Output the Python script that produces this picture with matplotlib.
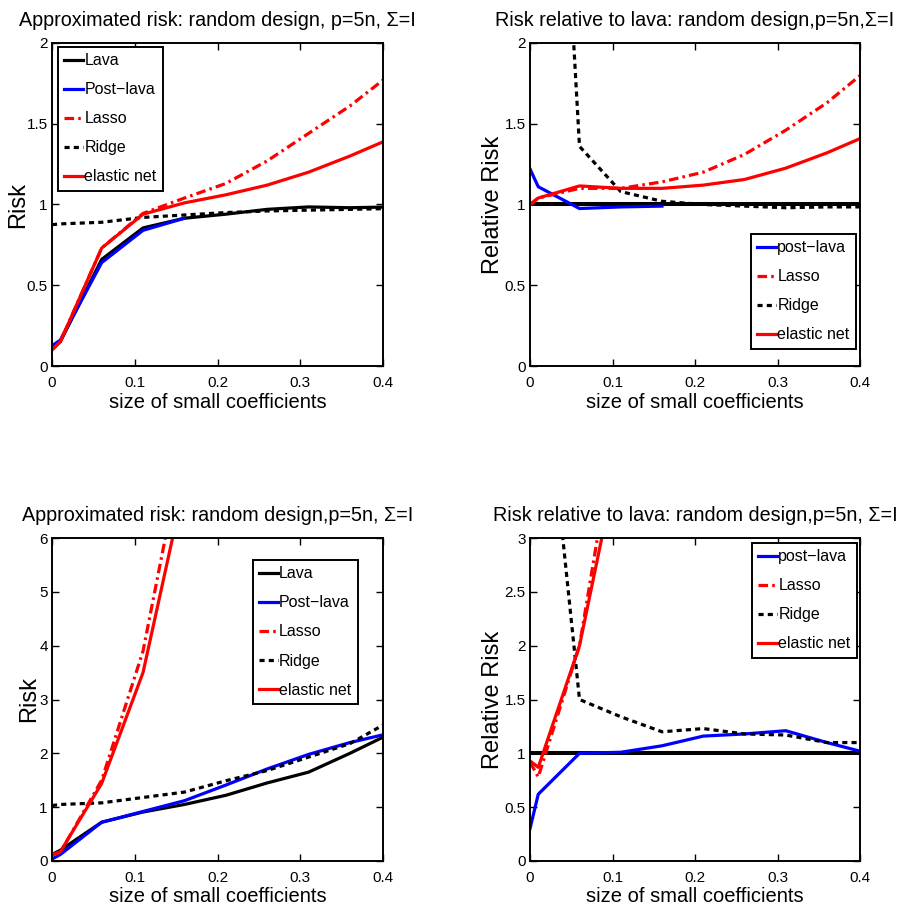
import numpy as np
import matplotlib
matplotlib.use("Agg")
import matplotlib.pyplot as plt
from matplotlib.ticker import FormatStrFormatter

plt.rcParams['font.family'] = ['Liberation Sans', 'DejaVu Sans']

nan = np.nan
size = [0, 0.01, 0.06, 0.11, 0.16, 0.21, 0.26, 0.31, 0.36, 0.41]

# top left: approximated risk
lava_a = [0.12, 0.15, 0.66, 0.855, 0.915, 0.94, 0.97, 0.985, 0.98, 0.985]
post_a = [0.125, 0.16, 0.64, 0.84, 0.915, nan, nan, nan, nan, nan]
lasso_a = [0.10, 0.15, 0.73, 0.945, 1.04, 1.13, 1.27, 1.44, 1.61, 1.81]
ridge_a = [0.875, 0.88, 0.89, 0.92, 0.935, 0.95, 0.96, 0.965, 0.97, 0.975]
enet_a = [0.10, 0.15, 0.73, 0.94, 1.01, 1.06, 1.12, 1.20, 1.30, 1.41]

# top right: relative to lava
post_b = [1.22, 1.11, 0.975, 0.985, 0.99, nan, nan, nan, nan, nan]
lasso_b = [1.0, 1.04, 1.10, 1.10, 1.14, 1.20, 1.31, 1.46, 1.63, 1.84]
ridge_b = [7.3, 5.9, 1.36, 1.08, 1.02, 1.0, 0.99, 0.98, 0.985, 0.985]
enet_b = [1.0, 1.04, 1.115, 1.10, 1.10, 1.12, 1.155, 1.225, 1.32, 1.43]

# bottom left: approximated risk
lava_c = [0.12, 0.2, 0.72, 0.91, 1.05, 1.22, 1.45, 1.65, 2.0, 2.375]
post_c = [0.036, 0.12, 0.72, 0.92, 1.12, 1.41, 1.71, 1.98, 2.2, 2.38]
lasso_c = [0.12, 0.16, 1.5, 3.9, 7.8, 12.0, 16.0, 21.0, 26.0, 31.0]
ridge_c = [1.03, 1.05, 1.08, 1.18, 1.28, 1.49, 1.68, 1.93, 2.18, 2.61]
enet_c = [0.11, 0.17, 1.44, 3.5, 7.0, 10.5, 14.0, 18.0, 22.0, 26.0]

# bottom right: relative to lava
post_d = [0.30, 0.62, 1.0, 1.01, 1.07, 1.16, 1.18, 1.21, 1.10, 1.0]
lasso_d = [0.92, 0.78, 2.0, 4.3, 7.4, 9.8, 11.0, 12.7, 13.0, 13.1]
ridge_d = [10.3, 5.2, 1.5, 1.34, 1.2, 1.23, 1.18, 1.17, 1.10, 1.10]
enet_d = [0.93, 0.87, 2.0, 3.85, 6.7, 8.6, 9.7, 10.9, 11.0, 10.9]

titles = ["Approximated risk: random design, p=5n, \u03a3=I",
          "Risk relative to lava: random design,p=5n,\u03a3=I",
          "Approximated risk: random design,p=5n, \u03a3=I",
          "Risk relative to lava: random design,p=5n, \u03a3=I"]

W, H = 898, 911
fig = plt.figure(figsize=(W / 100, H / 100), dpi=100)

def make_ax(x0, y0, x1, y1):
    return fig.add_axes([x0 / W, 1 - y1 / H, (x1 - x0) / W, (y1 - y0) / H])

axes = [make_ax(52, 43, 383, 366), make_ax(530, 43, 860, 366),
        make_ax(52, 538, 383, 861), make_ax(530, 538, 860, 861)]

lw = 2.3
dot = (0, (1.6, 1.3))
dashdot = (0, (3.0, 1.3, 0.8, 1.3))

def risk_panel(ax, lava, post, lasso, ridge, enet):
    ax.plot(size, lava, color='k', lw=lw, label='Lava')
    ax.plot(size, post, color='b', lw=lw, label='Post\u2212lava')
    ax.plot(size, lasso, color='r', lw=lw, ls=dashdot, label='Lasso')
    ax.plot(size, ridge, color='k', lw=lw, ls=dot, label='Ridge')
    ax.plot(size, enet, color='r', lw=lw, label='elastic net')
    ax.set_ylabel('Risk', fontsize=17)

def rel_panel(ax, post, lasso, ridge, enet):
    ax.plot(size, np.ones(len(size)), color='k', lw=lw + 0.6)
    ax.plot(size, post, color='b', lw=lw, label='post\u2212lava')
    ax.plot(size, lasso, color='r', lw=lw, ls=dashdot, label='Lasso')
    ax.plot(size, ridge, color='k', lw=lw, ls=dot, label='Ridge')
    ax.plot(size, enet, color='r', lw=lw, label='elastic net')
    ax.set_ylabel('Relative Risk', fontsize=17)

risk_panel(axes[0], lava_a, post_a, lasso_a, ridge_a, enet_a)
rel_panel(axes[1], post_b, lasso_b, ridge_b, enet_b)
risk_panel(axes[2], lava_c, post_c, lasso_c, ridge_c, enet_c)
rel_panel(axes[3], post_d, lasso_d, ridge_d, enet_d)

ylims = [(0, 2), (0, 2), (0, 6), (0, 3)]
yticks = [np.arange(0, 2.01, 0.5), np.arange(0, 2.01, 0.5),
          np.arange(0, 6.01, 1), np.arange(0, 3.01, 0.5)]
ylabel_x = [-0.07, -0.078, -0.035, -0.078]
leg_pos = [('upper left', (0.018, 0.988)), ('lower right', (0.988, 0.053)),
           ('upper right', (0.924, 0.932)), ('upper right', (0.991, 0.985))]

for i, ax in enumerate(axes):
    ax.set_xlim(0, 0.4)
    ax.set_ylim(*ylims[i])
    ax.set_xticks([0, 0.1, 0.2, 0.3, 0.4])
    ax.set_yticks(yticks[i])
    ax.xaxis.set_major_formatter(FormatStrFormatter('%g'))
    ax.yaxis.set_major_formatter(FormatStrFormatter('%g'))
    ax.tick_params(direction='in', length=5, width=1, top=True, right=True, labelsize=11)
    ax.tick_params(axis='x', pad=7)
    ax.tick_params(axis='y', pad=3)
    for s in ax.spines.values():
        s.set_linewidth(1.4)
    ax.yaxis.set_label_coords(ylabel_x[i], 0.5)
    ax.set_xlabel('size of small coefficients', fontsize=14.5, labelpad=2)
    ax.set_title(titles[i], fontsize=14.2, pad=12)
    loc, anchor = leg_pos[i]
    leg = ax.legend(loc=loc, bbox_to_anchor=anchor, borderaxespad=0, fontsize=11.5,
                    handlelength=1.15, handletextpad=0.1, labelspacing=0.88,
                    borderpad=0.4, fancybox=False, framealpha=1, edgecolor='k')
    leg.get_frame().set_linewidth(1.4)

fig.savefig('out.png', dpi=100)
